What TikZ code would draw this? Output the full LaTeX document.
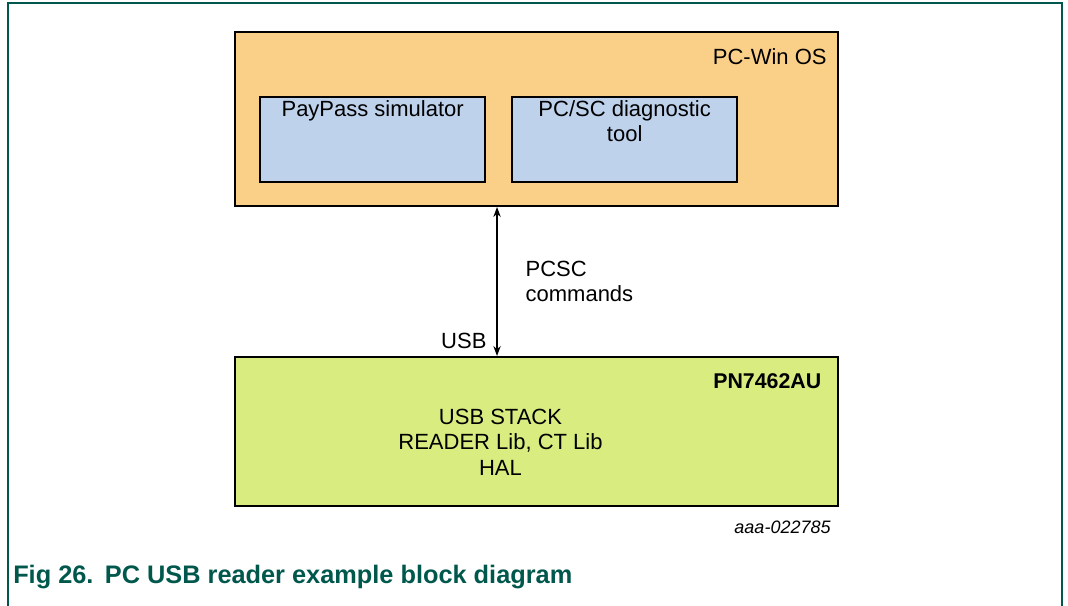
\documentclass[tikz,border=0pt]{standalone}
\usepackage{fontspec}
\setmainfont{Liberation Sans}
\usetikzlibrary{arrows.meta, positioning}
\definecolor{osorange}{RGB}{250,208,136}
\definecolor{appblue}{RGB}{190,210,236}
\definecolor{chipgreen}{RGB}{216,236,128}
\definecolor{nxpgreen}{RGB}{0,88,76}

\begin{document}
\begin{tikzpicture}[
      x=0.75pt, y=-0.75pt,
      font=\fontsize{16.5}{19}\selectfont,
      % Styles
      layer/.style={
        rectangle, draw=black, line width=1.5pt,
        minimum width=452pt, minimum height=130.5pt
      },
      app/.style={
        rectangle, draw=black, line width=1.5pt, fill=appblue,
        minimum width=168.75pt, minimum height=63.75pt
      },
      link_arrow/.style={
        {Stealth[length=7.5pt,width=5.5pt]}-{Stealth[length=7.5pt,width=5.5pt]},
        line width=0.9pt
      },
      label_text/.style={
        inner sep=0pt, align=center
      }
    ]

    \useasboundingbox (0,0) rectangle (1068,606);

    % --- page frame ---
    \draw[nxpgreen, line width=1.5pt] (8,606) -- (8,3) -- (1062,3) -- (1062,606);

    % --- 1. NODES ---

    % PC side
    \node[layer, fill=osorange] (os) at (536.5,119) {};
    \node[label_text, below left=13pt and 9pt of os.north east] (os_name) {PC-Win OS};

    \node[app, below right=48.75pt and 18.75pt of os.north west] (paypass) {};
    \node[app, right=18.75pt of paypass] (pcsc) {};
    \node[label_text, below=3pt of paypass.north] (paypass_name) {PayPass simulator};
    \node[label_text, below=3pt of pcsc.north] (pcsc_name) {PC/SC diagnostic\\tool};

    % Reader side
    \node[layer, fill=chipgreen, minimum height=111.75pt, below=111.75pt of os] (chip) {};
    \node[label_text, below left=13pt and 13pt of chip.north east,
          font=\bfseries\fontsize{16}{19}\selectfont] (chip_name) {PN7462AU};
    \node[label_text, xshift=-27pt, yshift=-8pt] (stack) at (chip.center)
          {USB STACK\\READER Lib, CT Lib\\HAL};

    % Figure id and caption
    \node[label_text, below left=10pt and 6pt of chip.south east,
          font=\itshape\fontsize{13.5}{16}\selectfont] (fig_id) {aaa-022785};
    \node[label_text, anchor=west, text=nxpgreen,
          font=\bfseries\fontsize{19}{22}\selectfont] (caption) at (13,577)
          {Fig 26.\hspace{0.45em}PC USB reader example block diagram};

    % --- 2. EDGES ---
    \coordinate[left=29.6pt of os.south] (link);
    \draw[link_arrow] (link) -- (chip.north -| link)
        node[label_text, align=left, pos=0.5, right=21pt] (cmd_label) {PCSC\\commands}
        node[label_text, pos=0.9, left=7.5pt] (usb_label) {USB};

\end{tikzpicture}
\end{document}
